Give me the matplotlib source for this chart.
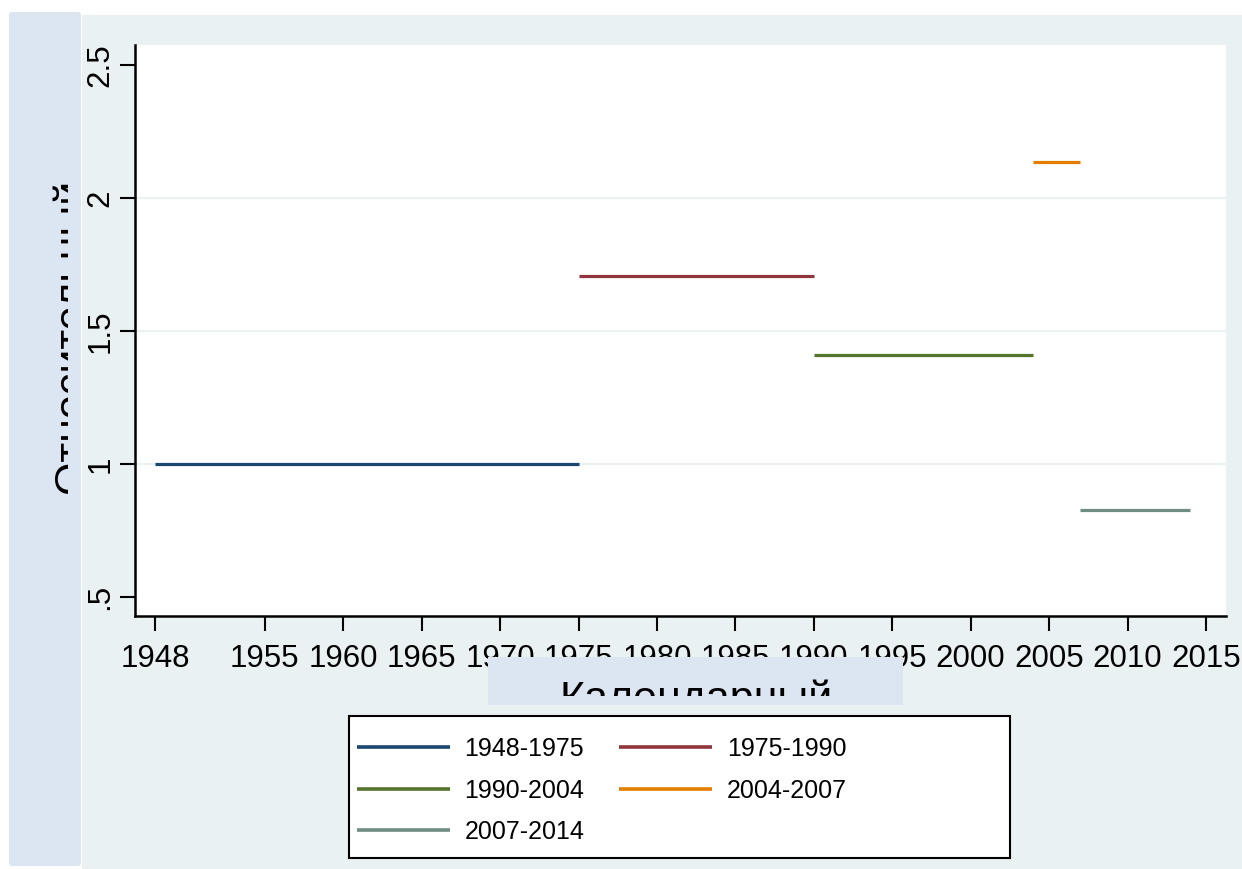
import matplotlib
matplotlib.use('Agg')
import matplotlib.pyplot as plt
from matplotlib.patches import Rectangle, FancyBboxPatch
from matplotlib.transforms import Bbox, TransformedBbox

plt.rcParams['font.family'] = ['Liberation Sans', 'DejaVu Sans']

# periods and relative values
starts = [1948, 1975, 1990, 2004, 2007]
ends = [1975, 1990, 2004, 2007, 2014]
values = [1.0, 1.707, 1.41, 2.135, 0.827]
labels = ['1948-1975', '1975-1990', '1990-2004', '2004-2007', '2007-2014']
colors = ['#1a476f', '#90353b', '#55752f', '#e37e00', '#6e8e84']

xticks = [1948, 1955, 1960, 1965, 1970, 1975, 1980, 1985, 1990, 1995, 2000, 2005, 2010, 2015]
yticks = [0.5, 1, 1.5, 2, 2.5]
yticklabels = ['.5', '1', '1.5', '2', '2.5']

W, H = 1242, 869
fig = plt.figure(figsize=(W / 100, H / 100), dpi=100)
fig.patch.set_facecolor('white')


def px(x0, y0, x1, y1):
    # pixel box (top-left origin) -> figure fraction rectangle
    return x0 / W, 1 - y1 / H, (x1 - x0) / W, (y1 - y0) / H


# outer light background
x, y, w, h = px(82, 15, W, H)
fig.patches.append(Rectangle((x, y), w, h, transform=fig.transFigure,
                             facecolor='#eaf1f3', edgecolor='none', zorder=0))
# left strip
x, y, w, h = px(9, 12, 81, 866)
fig.patches.append(FancyBboxPatch((x, y), w, h, boxstyle='round,pad=0,rounding_size=0.003',
                                  transform=fig.transFigure, facecolor='#dce6f2',
                                  edgecolor='none', zorder=0))

ax = fig.add_axes(px(135, 45, 1226, 616))
ax.set_facecolor('white')
ax.set_zorder(1)

for s, e, v, c, lab in zip(starts, ends, values, colors, labels):
    ax.plot([s, e], [v, v], color=c, lw=2.3, label=lab, solid_capstyle='butt')

ax.set_xlim(1946.72, 2016.28)
ax.set_ylim(0.4286, 2.575)
ax.set_xticks(xticks)
ax.set_yticks(yticks)
ax.set_yticklabels(yticklabels)
ax.tick_params(axis='both', direction='out', length=11, width=1.5, labelsize=22.5, color='black')
ax.tick_params(axis='x', pad=9)
ax.tick_params(axis='y', pad=3, labelrotation=90)
for t in ax.get_yticklabels():
    t.set_va('center')

ax.grid(axis='y', color='#eaf2f3', lw=1.5)
glines = ax.yaxis.get_gridlines()
glines[0].set_visible(False)
glines[-1].set_visible(False)
ax.set_axisbelow(True)

for side in ['top', 'right']:
    ax.spines[side].set_visible(False)
for side in ['left', 'bottom']:
    ax.spines[side].set_linewidth(1.8)
    ax.spines[side].set_color('black')

# clipped y label
yl = fig.text(52 / W, 1 - 493 / H, 'Относительный', rotation=90, fontsize=31,
              ha='left', va='bottom', zorder=2)
yl.set_clip_box(TransformedBbox(Bbox.from_extents(0, 0, 68 / W, 1), fig.transFigure))
yl.set_clip_on(True)

# x label box covering part of tick labels
x, y, w, h = px(488, 657, 903, 705)
fig.patches.append(Rectangle((x, y), w, h, transform=fig.transFigure,
                             facecolor='#dce6f2', edgecolor='none', zorder=5))
xl = fig.text(696 / W, 1 - 680 / H, 'Календарный', fontsize=31, ha='center', va='top', zorder=6)
xl.set_clip_box(TransformedBbox(Bbox.from_extents(0, 1 - 696 / H, 1, 1), fig.transFigure))
xl.set_clip_on(True)

# legend frame
x, y, w, h = px(349, 716, 1010, 858)
fig.patches.append(Rectangle((x, y), w, h, transform=fig.transFigure,
                             facecolor='white', edgecolor='black', lw=1.5, zorder=3))
handles, labs = ax.get_legend_handles_labels()
order = [0, 2, 4, 1, 3]
leg = fig.legend([handles[i] for i in order], [labs[i] for i in order],
                 loc='upper left', bbox_to_anchor=(352 / W, 1 - 732 / H),
                 ncol=2, frameon=False, fontsize=18, handlelength=3.7,
                 handletextpad=0.6, columnspacing=1.4, labelspacing=0.7,
                 borderpad=0.2, borderaxespad=0)
leg.set_zorder(4)
for ln in leg.get_lines():
    ln.set_linewidth(2.6)

fig.savefig('out.png', dpi=100)
